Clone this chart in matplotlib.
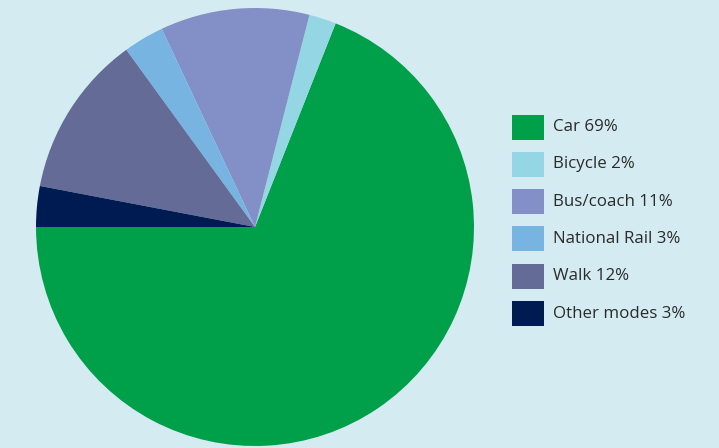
import matplotlib
matplotlib.use("Agg")
import matplotlib.pyplot as plt
from matplotlib.patches import Rectangle

modes = ["Car", "Bicycle", "Bus/coach", "National Rail", "Walk", "Other modes"]
shares = [69, 2, 11, 3, 12, 3]
colors = ["#00a04b", "#94d6e3", "#8390c7", "#78b4e2", "#646b97", "#001a52"]
bg = "#d4ecf1"

W, H = 719, 448
fig = plt.figure(figsize=(W / 100, H / 100), dpi=100, facecolor=bg)

# pie centred at (255, 227) px with radius 219 px
cx, cy, r = 255, 227, 219
ax = fig.add_axes([(cx - r) / W, (H - cy - r) / H, 2 * r / W, 2 * r / H])
ax.set_facecolor(bg)
ax.pie(shares, colors=colors, startangle=180, counterclock=True,
       wedgeprops=dict(linewidth=0), radius=1)
ax.set_xlim(-1, 1)
ax.set_ylim(-1, 1)
ax.set_aspect("equal")
ax.axis("off")

# legend: colour swatches with labels
y0, dy = 127, 37.3
for i, (m, s, c) in enumerate(zip(modes, shares, colors)):
    yc = y0 + i * dy
    fig.patches.append(Rectangle((512 / W, (H - yc - 12.5) / H), 32 / W, 25 / H,
                                 transform=fig.transFigure, facecolor=c,
                                 edgecolor="none"))
    fig.text(553 / W, (H - yc) / H, f"{m} {s}%", fontsize=12.2,
             family="Open Sans", color="#2b2b2b", va="center", ha="left")

fig.savefig("out.png", dpi=100, facecolor=bg)
